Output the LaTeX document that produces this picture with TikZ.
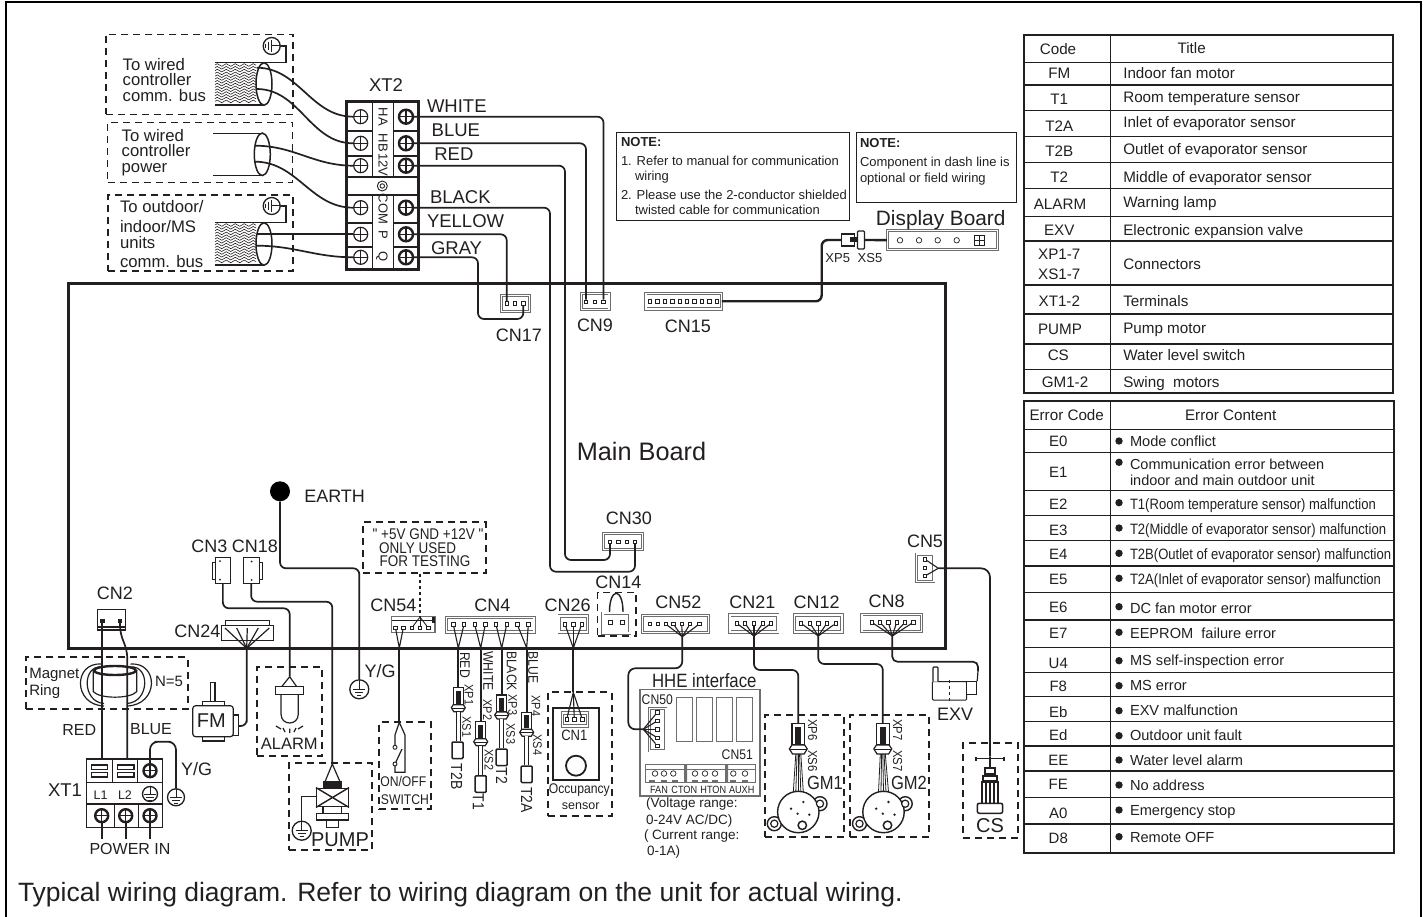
\documentclass[tikz,border=0pt]{standalone}
\usepackage{fontspec}
\setmainfont{Liberation Sans}
\newfontfamily\narrowfont[FakeStretch=0.87]{Liberation Sans}
\usepackage{tikz}
\usepackage{xcolor}
\usetikzlibrary{decorations.pathmorphing,shapes.geometric}
\definecolor{inkblack}{RGB}{35,31,32}
\definecolor{boxgray}{RGB}{110,110,110}
\tikzset{
  txt/.style={inner sep=0, outer sep=0, anchor=mid, text=inkblack, yshift={(2.85-0.36*#1)*1pt}, font=\fontsize{#1}{#1}\selectfont},
  ntxt/.style={inner sep=0, outer sep=0, anchor=mid, text=inkblack, yshift={(2.85-0.36*#1)*1pt}, font=\narrowfont\fontsize{#1}{#1}\selectfont},
  rtxt/.style={inner sep=0, outer sep=0, anchor=mid, text=inkblack, xshift={(2.85-0.36*#1)*1pt}, rotate=-90, font=\fontsize{#1}{#1}\selectfont},
  nrtxt/.style={inner sep=0, outer sep=0, anchor=mid, text=inkblack, xshift={(2.85-0.36*#1)*1pt}, rotate=-90, font=\narrowfont\fontsize{#1}{#1}\selectfont},
  wire/.style={draw=inkblack, line width=1.7, rounded corners=6},
  heavywire/.style={draw=inkblack, line width=2.4, rounded corners=6},
  thinwire/.style={draw=inkblack, line width=1.1},
  partline/.style={draw=inkblack, line width=1.2},
  dashbox/.style={draw=inkblack, line width=1.8, dash pattern=on 7pt off 5pt},
  tablerule/.style={draw=inkblack, line width=1.5},
  cnbox/.style={rectangle, draw=boxgray, line width=0.8, double=white, double distance=1.5, fill=white, inner sep=0},
  pinbox/.style={rectangle, draw=inkblack, fill=white, line width=0.7, minimum size=3.4, inner sep=0},
  sensorbox/.style={rectangle, draw=inkblack, fill=white, line width=1.5, rounded corners=1, minimum width=11, minimum height=16.5, inner sep=0},
  bullet/.style={circle, fill=inkblack, minimum size=7.4, inner sep=0},
  screw/.style={circle, draw=inkblack, fill=white, line width=1.2, minimum size=14, inner sep=0,
    path picture={\draw[line width=1.2] (path picture bounding box.north) -- (path picture bounding box.south) (path picture bounding box.west) -- (path picture bounding box.east);}},
  boldscrew/.style={screw, line width=2.4},
  ground/.style={circle, draw=inkblack, fill=white, line width=1.3, minimum size=19, inner sep=0,
    path picture={\draw[line width=1] (path picture bounding box.center) ++(0,-9) -- ++(0,9) ++(-6,0) -- ++(12,0) ++(-10,3) -- ++(8,0) ++(-6,3) -- ++(4,0);}},
  sideground/.style={circle, draw=inkblack, fill=white, line width=1.3, minimum size=17, inner sep=0,
    path picture={\draw[line width=1] (path picture bounding box.center) ++(9,0) -- ++(-9,0) ++(0,-6) -- ++(0,12) ++(-3,-10) -- ++(0,8) ++(-3,-6) -- ++(0,4);}},
  plug/.pic={
    \coordinate (-top) at (0,0);
    \coordinate (-bot) at (0,24);
    \draw[partline, fill=white] (-5,0) rectangle (5,17);
    \fill[inkblack] (-2.4,3) rectangle (2.4,16);
    \draw[partline, fill=white] (-5,17) -- (5,17) -- (7,20) -- (4.5,24) -- (-4.5,24) -- (-7,20) -- cycle;
    \draw[partline] (-6.6,20.5) -- (6.6,20.5);
  },
  gearmotor/.pic={
    \coordinate (-top) at (0,-20);
    \draw[partline, line width=1.4, fill=white] (-24,11.7) circle[radius=7] (21.7,-8.3) circle[radius=7];
    \draw[partline, line width=1.4, fill=white] (0,0) circle[radius=20.7];
    \draw[partline, fill=white] (-24,11.7) circle[radius=3.6] (21.7,-8.3) circle[radius=3.6];
    \draw[partline, line width=1.5] (4,13.3) circle[radius=4.2];
    \fill[inkblack] (-7.3,-3.3) circle[radius=1.3] (5,-10) circle[radius=1.3] (-0.7,1.7) circle[radius=1.3] (11,2.7) circle[radius=1.3];
  },
  cablehatch/.pic={
    \foreach \h in {2,4.8,...,40}
      \draw[line width=0.6, draw=inkblack, decorate, decoration={zigzag, segment length=9, amplitude=1.3}] (0,\h) -- (41,\h);
  }
}
\begin{document}
\begin{tikzpicture}[x=1pt, y=-1pt]
  \useasboundingbox (0,0) rectangle (1427,917);
  \draw[draw=black, line width=2] (6,917) -- (6,2.5) -- (1421,2.5) -- (1421,917);

  % Main board
  \node[rectangle, draw=inkblack, line width=3, minimum width=877, minimum height=364, inner sep=0] (mainboard) at (506.5,466) {};
  \node[txt=25.3] (mainlabel) at (641.5,452) {Main Board};

  % Terminal block XT2
  \node[rectangle, draw=inkblack, line width=3, minimum width=72, minimum height=168, inner sep=0] (xt2) at (382,186) {};
  \node[txt=18.5] (xt2label) at (386,85.5) {XT2};
  \draw[partline] (372.7,102) -- (372.7,177) (393.3,102) -- (393.3,177) (372.7,195) -- (372.7,270) (393.3,195) -- (393.3,270);
  \draw[partline] (346,131) -- (372.7,131) (346,156) -- (372.7,156) (393.3,131) -- (418,131) (393.3,156) -- (418,156);
  \draw[partline] (346,177) -- (418,177) (346,195) -- (418,195);
  \draw[partline] (346,223) -- (372.7,223) (346,247) -- (372.7,247) (393.3,223) -- (418,223) (393.3,247) -- (418,247);
  \node[screw] (ha) at (360.7,116.7) {};
  \node[screw] (hb) at (360.7,143.3) {};
  \node[screw] (v12) at (360.7,165.7) {};
  \node[screw] (com) at (360.7,207.7) {};
  \node[screw] (p) at (360.7,234.3) {};
  \node[screw] (q) at (360.7,257.3) {};
  \node[boldscrew] (swhite) at (406,116.7) {};
  \node[boldscrew] (sblue) at (406,143.3) {};
  \node[boldscrew] (sred) at (406,165.7) {};
  \node[boldscrew] (sblack) at (406,207.7) {};
  \node[boldscrew] (syellow) at (406,234.3) {};
  \node[boldscrew] (sgray) at (406,257.3) {};
  \node[rtxt=13] (halabel) at (383,117) {HA};
  \node[rtxt=13] (hblabel) at (383,143) {HB};
  \node[rtxt=13] (v12label) at (383,165) {12V};
  \node[rtxt=13] (comlabel) at (383,209) {COM};
  \node[rtxt=13] (plabel) at (383,235) {P};
  \node[rtxt=13] (qlabel) at (383,257) {Q};
  \node[circle, draw=inkblack, line width=0.9, minimum size=10, inner sep=0] (xt2hole) at (382.3,186) {};
  \node[circle, draw=inkblack, line width=0.9, minimum size=4.5, inner sep=0] (xt2hole2) at (382.3,186) {};
  \node[txt=18.5, anchor=mid west] (lwhite) at (427,105.7) {WHITE};
  \node[txt=18.5, anchor=mid west] (lblue) at (431.7,130) {BLUE};
  \node[txt=18.5, anchor=mid west] (lred) at (434.3,154.3) {RED};
  \node[txt=18.5, anchor=mid west] (lblack) at (430,197) {BLACK};
  \node[txt=18.5, anchor=mid west] (lyellow) at (427,221.5) {YELLOW};
  \node[txt=18.5, anchor=mid west] (lgray) at (431,248) {GRAY};

  % Field cables
  \node[dashbox, rectangle, minimum width=187, minimum height=80, inner sep=0] (bus1) at (199.7,74.5) {};
  \node[dashbox, rectangle, minimum width=185, minimum height=60, inner sep=0] (bus2) at (200,152.5) {};
  \node[dashbox, rectangle, minimum width=185, minimum height=76, inner sep=0] (bus3) at (200.8,233) {};
  \node[txt=16.7, anchor=mid west] (bus1a) at (122.7,65) {To wired};
  \node[txt=16.7, anchor=mid west] (bus1b) at (122.7,80) {controller};
  \node[txt=16.7, anchor=mid west] (bus1c) at (122.7,96) {comm. bus};
  \node[txt=16.7, anchor=mid west] (bus2a) at (121.7,136) {To wired};
  \node[txt=16.7, anchor=mid west] (bus2b) at (121.7,151) {controller};
  \node[txt=16.7, anchor=mid west] (bus2c) at (121.7,167) {power};
  \node[txt=16.7, anchor=mid west] (bus3a) at (120,207) {To outdoor/};
  \node[txt=16.7, anchor=mid west] (bus3b) at (120,227) {indoor/MS};
  \node[txt=16.7, anchor=mid west] (bus3c) at (120,243) {units};
  \node[txt=16.7, anchor=mid west] (bus3d) at (120,262) {comm. bus};
  \pic at (215,63) {cablehatch};
  \pic at (215,223) {cablehatch};
  \draw[partline, line width=1.8] (215,62.5) -- (264,62.5) (215,105) -- (264,105);
  \draw[partline, line width=1.8] (215,222.5) -- (264,222.5) (215,265) -- (264,265);
  \draw[partline, line width=1.5] (213.3,133.3) -- (262,133.3) (213.3,175.7) -- (262,175.7);
  \node[ellipse, draw=inkblack, line width=1.5, fill=white, minimum width=16, minimum height=42.5, inner sep=0] (end1) at (264,84) {};
  \node[ellipse, draw=inkblack, line width=1.5, fill=white, minimum width=16, minimum height=42.5, inner sep=0] (end2) at (262.3,154.3) {};
  \node[ellipse, draw=inkblack, line width=1.5, fill=white, minimum width=16, minimum height=42.5, inner sep=0] (end3) at (264,244) {};
  \node[sideground] (gnd1) at (271.7,46) {};
  \node[sideground] (gnd3) at (271.7,206) {};
  \coordinate (c1) at (286,62.5);
  \coordinate (c3) at (286,222.5);
  \coordinate (w1a) at (256.7,67.7);
  \coordinate (w1b) at (256.7,89);
  \coordinate (w2a) at (255,145.7);
  \coordinate (w2b) at (255,161.7);
  \coordinate (w3a) at (256.7,234.3);
  \coordinate (w3b) at (256.7,245.7);
  \draw[thinwire, line width=1.3] (gnd1) -| (c1) -- (264,62.5);
  \draw[thinwire, line width=1.3] (gnd3) -| (c3) -- (264,222.5);
  \draw[wire] (w1a) to[out=0, in=180] (ha);
  \draw[wire] (w1b) to[out=0, in=180] (hb);
  \draw[wire] (w2a) to[out=0, in=180] (v12);
  \draw[wire] (w2b) to[out=0, in=180] (com);
  \draw[wire] (w3a) -- (p);
  \draw[wire] (w3b) to[out=0, in=180] (q);

  % Upper connectors
  \node[cnbox, minimum width=28, minimum height=16] (cn17) at (515.7,303.3) {};
  \foreach \n/\x in {a/506.7,b/515,c/523.3}
    \node[pinbox] (cn17\n) at (\x,303.3) {};
  \node[txt=18] (cn17label) at (519,335.5) {CN17};
  \node[cnbox, minimum width=27.5, minimum height=16] (cn9) at (595.3,301.7) {};
  \foreach \n/\x in {a/586,b/595,c/603.5}
    \node[pinbox] (cn9\n) at (\x,301.7) {};
  \node[txt=18] (cn9label) at (595,325.5) {CN9};
  \node[cnbox, minimum width=75.5, minimum height=15.5] (cn15) at (683.6,301.3) {};
  \foreach \x in {650,657.4,...,717}
    \node[pinbox] (cn15x\x) at (\x,301.3) {};
  \node[txt=18] (cn15label) at (688,326) {CN15};
  \node[cnbox, minimum width=39, minimum height=16] (cn30) at (623,541.7) {};
  \foreach \n/\x in {a/610,b/618.3,c/626.7,d/635}
    \node[pinbox] (cn30\n) at (\x,541.7) {};
  \node[txt=18] (cn30label) at (629,518.5) {CN30};
  \coordinate (g1) at (478,319);
  \coordinate (b1) at (550,571.7);
  \coordinate (r1) at (565,560);
  \draw[wire] (swhite) -| (cn9c);
  \draw[wire] (sblue) -| (cn9a);
  \draw[wire] (sred) -| (r1) -| (cn30a);
  \draw[wire] (sblack) -| (b1) -| (cn30d);
  \draw[wire] (syellow) -| (cn17a);
  \draw[wire] (sgray) -| (g1) -| (cn17c);

  % Display board
  \node[cnbox, minimum width=110, minimum height=19, double distance=1.2] (display) at (942.3,240.3) {};
  \foreach \n/\x in {a/900,b/919,c/937.7,d/956.7}
    \node[circle, draw=inkblack, line width=0.7, minimum size=5.5, inner sep=0] (led\n) at (\x,240.3) {};
  \node[rectangle, draw=inkblack, line width=1, minimum width=10, minimum height=10, inner sep=0] (digits) at (979.3,240.3) {};
  \draw[partline, line width=0.9] (digits.north) -- (digits.south) (digits.west) -- (digits.east);
  \node[txt=20.8] (displaylabel) at (940.7,218.5) {Display Board};
  \node[txt=13] (xp5) at (837.7,258.5) {XP5};
  \node[txt=13] (xs5) at (870,258.5) {XS5};
  \node[rectangle, draw=inkblack, line width=1.3, fill=white, minimum width=13, minimum height=12, inner sep=0] (xp5box) at (848,240) {};
  \node[rectangle, fill=inkblack, minimum width=10, minimum height=5, inner sep=0] (xp5core) at (855,240) {};
  \node[rectangle, draw=inkblack, line width=1.3, fill=white, rounded corners=1, minimum width=7, minimum height=18, inner sep=0] (xs5box) at (861,240) {};
  \coordinate (d1) at (821.7,240);
  \draw[heavywire] (cn15) -| (d1) -- (xp5box);
  \draw[heavywire, rounded corners=0] (xs5box) -- (display);

  % Notes
  \node[rectangle, draw=inkblack, line width=1, minimum width=233, minimum height=88, inner sep=0] (note1) at (732.5,177) {};
  \node[rectangle, draw=inkblack, line width=1, minimum width=160, minimum height=70, inner sep=0] (note2) at (936,168) {};
  \node[txt=13, anchor=mid west] (note1a) at (621,142.5) {\bfseries NOTE:};
  \node[txt=13, anchor=mid west] (note1b) at (621,160.7) {1. Refer to manual for communication};
  \node[txt=13, anchor=mid west] (note1c) at (635,176) {wiring};
  \node[txt=13, anchor=mid west] (note1d) at (621,195) {2. Please use the 2-conductor shielded};
  \node[txt=13, anchor=mid west] (note1e) at (635,210) {twisted cable for communication};
  \node[txt=13, anchor=mid west] (note2a) at (860,143) {\bfseries NOTE:};
  \node[txt=13, anchor=mid west] (note2b) at (860,161.7) {Component in dash line is};
  \node[txt=13, anchor=mid west] (note2c) at (860,177.7) {optional or field wiring};

  % Earth and testing note
  \node[circle, fill=black, minimum size=20, inner sep=0] (earth) at (280,491.3) {};
  \node[txt=18, anchor=mid west] (earthlabel) at (304.3,496) {EARTH};
  \node[ground] (gnde) at (359.3,689.3) {};
  \node[txt=18] (yg1) at (380,671.5) {Y/G};
  \coordinate (e1) at (359.3,568.3);
  \draw[wire] (earth) |- (e1) -- (gnde);
  \node[dashbox, rectangle, minimum width=123, minimum height=50.4, inner sep=0] (testbox) at (424.2,547.5) {};
  \node[ntxt=15.5] (test1) at (428,534) {" +5V GND +12V "};
  \node[ntxt=15.5] (test2) at (417.7,548.3) {ONLY USED};
  \node[ntxt=15.5] (test3) at (425,561.5) {FOR TESTING};

  % CN3 and CN18
  \node[rectangle, draw=inkblack, line width=0.8, minimum width=15.7, minimum height=25.6, inner sep=0] (cn3) at (222.85,570.5) {};
  \node[rectangle, draw=inkblack, line width=0.8, minimum width=15.7, minimum height=25.6, inner sep=0] (cn18) at (251.15,570.5) {};
  \draw[partline, line width=0.8] (215,562) -- (212.3,562) -- (212.3,579) -- (215,579);
  \draw[partline, line width=0.8] (259,562) -- (262.3,562) -- (262.3,579) -- (259,579);
  \fill[inkblack] (220,561) circle[radius=1] (220,579.7) circle[radius=1] (251.7,561.5) circle[radius=1] (251.7,580) circle[radius=1];
  \node[txt=18] (cn3label) at (209.3,546) {CN3};
  \node[txt=18] (cn18label) at (255,546) {CN18};

  % CN2, ring, XT1
  \node[rectangle, draw=inkblack, line width=1.2, minimum width=28.4, minimum height=20.7, inner sep=0] (cn2) at (111.5,619.7) {};
  \draw[partline] (97.3,627) -- (125.7,627);
  \node[pinbox, fill=inkblack] (cn2a) at (102.3,621) {};
  \node[pinbox, fill=inkblack] (cn2b) at (120,621) {};
  \node[txt=18] (cn2label) at (115,593.5) {CN2};
  \node[dashbox, rectangle, minimum width=161.7, minimum height=51.7, inner sep=0] (ringbox) at (106.85,683.15) {};
  \node[txt=15, anchor=mid west] (ring1) at (29.3,673.5) {Magnet};
  \node[txt=15, anchor=mid west] (ring2) at (29.3,690.5) {Ring};
  \node[txt=15] (ringn) at (169,681) {N=5};
  \draw[partline] (101.7,664) .. controls (73,662) and (73,705) .. (104,706);
  \draw[partline] (101.7,667) .. controls (82,665) and (82,702) .. (104,703.5);
  \draw[partline] (130.5,664) .. controls (159,662) and (159,705) .. (127,706);
  \draw[partline] (130.5,667) .. controls (150,665) and (150,702) .. (127,703.5);
  \draw[partline, fill=white] (93.3,671) -- (93.3,691.7) .. controls (100,699) and (130,699) .. (136.7,691.7) -- (136.7,671);
  \node[ellipse, draw=inkblack, line width=2.4, minimum width=42, minimum height=9, inner sep=0] (ringtop) at (115,670.5) {};
  \node[rectangle, draw=inkblack, line width=1.2, minimum width=75.6, minimum height=68.7, inner sep=0] (xt1) at (124.5,793.35) {};
  \node[txt=18.5] (xt1label) at (65,790) {XT1};
  \draw[partline, line width=1.2] (86.7,782.7) -- (162.3,782.7) (86.7,804) -- (162.3,804);
  \draw[partline, line width=1.2] (112.7,759) -- (112.7,782.7) (137.3,759) -- (137.3,782.7) (114.3,804) -- (114.3,827.7) (138.3,804) -- (138.3,827.7);
  \draw[partline] (91.7,765) rectangle (107.7,769.3) (91.7,772.7) rectangle (107.7,777);
  \draw[partline] (117.3,765) rectangle (134,769.3) (117.3,772.7) rectangle (134,777);
  \node[boldscrew, minimum size=13] (xt1g) at (150,770.7) {};
  \node[ground, minimum size=15] (xt1e) at (150,794) {};
  \node[boldscrew, minimum size=13] (xt1a) at (101.7,815.7) {};
  \node[boldscrew, minimum size=13] (xt1b) at (125.7,815.7) {};
  \node[boldscrew, minimum size=13] (xt1c) at (150,815.7) {};
  \node[txt=12.5] (l1) at (100.7,795) {L1};
  \node[txt=12.5] (l2) at (125,795) {L2};
  \coordinate (pow1) at (101.7,839.3);
  \coordinate (pow2) at (125.7,839.3);
  \coordinate (pow3) at (150,839.3);
  \draw[wire, line width=1.8] (xt1a) -- (pow1);
  \draw[wire, line width=1.8] (xt1b) -- (pow2);
  \draw[wire, line width=1.8] (xt1c) -- (pow3);
  \node[txt=16] (powerin) at (130,848.5) {POWER IN};
  \node[txt=16] (lred2) at (79.3,729.5) {RED};
  \node[txt=16] (lblue2) at (151,728.5) {BLUE};
  \node[ground, minimum size=17] (gndx) at (176,797.3) {};
  \node[txt=18] (yg2) at (196.7,769.5) {Y/G};
  \coordinate (xr) at (102.3,759);
  \coordinate (xb) at (127.3,759);
  \coordinate (bl1) at (127.3,660);
  \coordinate (yg3) at (162.5,741.7);
  \draw[wire] (cn2a) -- (xr);
  \draw[wire, rounded corners=0] (cn2b) .. controls (120,642) and (127.3,642) .. (bl1) -- (xb);
  \draw[wire, rounded corners=8] (xt1g.north) |- (yg3) -| (gndx);

  % CN24 and fan motor
  \node[rectangle, draw=inkblack, line width=0.8, minimum width=51.6, minimum height=15, inner sep=0] (cn24) at (247.5,632.5) {};
  \draw[partline, line width=0.8] (225,625) -- (225,620.7) -- (269.3,620.7) -- (269.3,625);
  \node[txt=18] (cn24label) at (197.3,631) {CN24};
  \coordinate (f24) at (246.7,648.3);
  \foreach \x in {225,236.7,247.3,258.3,269.3}
    \draw[thinwire, line width=1.2] (\x,628) -- (f24);
  \node[rectangle, draw=inkblack, line width=1.2, rounded corners=3, fill=white, minimum width=40.6, minimum height=31, inner sep=0] (fm) at (213,721.2) {};
  \draw[partline] (202.7,705.7) -- (202.7,701.7) -- (224.3,701.7) -- (224.3,705.7);
  \draw[partline] (202.7,736.7) -- (202.7,741) -- (224.3,741) -- (224.3,736.7);
  \draw[partline] (233.3,715) -- (238.3,715) -- (238.3,735.7) -- (233.3,735.7);
  \draw[partline, fill=white] (210.7,682.7) rectangle (215,701.7);
  \node[txt=20] (fmlabel) at (211.3,720.5) {FM};
  \coordinate (fm1) at (246.7,726);
  \draw[wire] (f24) |- (fm1) -- (238.3,726);

  % Alarm lamp
  \node[dashbox, rectangle, minimum width=65, minimum height=89, inner sep=0] (alarmbox) at (289.8,711.2) {};
  \coordinate (lamp) at (289.7,676.7);
  \coordinate (a1) at (289.7,608.3);
  \draw[heavywire, line width=1.7] (cn3.south) |- (a1) -- (lamp);
  \draw[partline] (lamp) -- (281.7,686.7) (lamp) -- (296.7,686.7);
  \draw[partline] (281,694.3) -- (281,714) .. controls (281,726) and (298.3,726) .. (298.3,714) -- (298.3,694.3);
  \draw[partline, fill=white] (275.7,686.7) rectangle (303.3,694.3);
  \draw[partline] (276,726) -- (281,729) (283,728) -- (285,732) (289.7,728.5) -- (289.7,733) (296,728) -- (294,732) (303,726) -- (298,729);
  \node[txt=16.5] (alarmlabel) at (289.3,744) {ALARM};

  % Pump
  \node[dashbox, rectangle, minimum width=83.3, minimum height=86.7, inner sep=0] (pumpbox) at (330.65,806.65) {};
  \coordinate (pumptop) at (332.3,764);
  \coordinate (c18) at (332.3,601.7);
  \draw[heavywire, line width=1.7] (cn18.south) |- (c18) -- (pumptop);
  \draw[partline] (pumptop) -- (325,781.7) (pumptop) -- (340,781.7);
  \draw[partline, fill=inkblack] (323.3,782) rectangle (341.7,788.3);
  \node[rectangle, draw=inkblack, line width=1.4, fill=white, minimum width=31.6, minimum height=18.4, inner sep=0] (pumpx) at (332.5,797.5) {};
  \draw[partline, line width=1.4] (pumpx.north west) -- (pumpx.south east) (pumpx.south west) -- (pumpx.north east);
  \draw[partline, fill=white] (323,806.7) rectangle (341.7,813.3);
  \draw[partline, line width=1.4, fill=white] (316.7,813.3) rectangle (348.3,820);
  \draw[partline, line width=1.4, fill=white] (326.7,820) rectangle (338.3,827.7);
  \node[ground] (gndp) at (301.7,830.7) {};
  \coordinate (gp) at (301.7,796.7);
  \draw[thinwire, line width=1.2] (gndp) -- (gp) -- (pumpx.west |- gp);
  \node[txt=20] (pumplabel) at (340,839.5) {PUMP};

  % CN54 and switch
  \node[rectangle, draw=boxgray, line width=1.2, fill=white, minimum width=43.3, minimum height=16, inner sep=0] (cn54) at (413.3,624.7) {};
  \draw[partline] (392,620.5) -- (434.7,620.5);
  \fill[inkblack] (432,617) rectangle (435,623);
  \foreach \n/\x in {a/395.5,b/403.3,c/411.7,d/420,e/428.3}
    \node[pinbox] (cn54\n) at (\x,628) {};
  \node[txt=18] (cn54label) at (393.3,605.5) {CN54};
  \coordinate (t54) at (420,617);
  \draw[thinwire, dashed, line width=1.2] (testbox.south -| t54) -- (t54);
  \foreach \n in {c,d,e}
    \draw[thinwire, line width=0.9] (t54) -- (cn54\n);
  \coordinate (f54) at (399.3,648);
  \draw[thinwire] (cn54a) -- (f54) -- (cn54b);
  \node[dashbox, rectangle, minimum width=51.4, minimum height=86.7, inner sep=0] (switchbox) at (405,765.6) {};
  \coordinate (sw) at (399.3,722.3);
  \draw[wire, rounded corners=0] (f54) -- (sw);
  \draw[partline] (sw) -- (395,735) -- (395,745) (395,766) -- (395,772.3) -- (405,772.3) -- (405,735) -- (sw);
  \draw[partline] (395,764) -- (402,749);
  \node[circle, draw=inkblack, line width=0.9, fill=white, minimum size=4, inner sep=0] (swa) at (395,747.3) {};
  \node[circle, draw=inkblack, line width=0.9, fill=white, minimum size=4, inner sep=0] (swb) at (395,764) {};
  \node[ntxt=14] (onoff) at (403.3,781.7) {ON/OFF};
  \node[ntxt=14] (switchlabel) at (405,799.3) {SWITCH};

  % CN4 and sensors
  \node[cnbox, minimum width=87.5, minimum height=14.5] (cn4) at (490.3,624.7) {};
  \foreach \n/\x in {a/453.3,b/464,c/474.7,d/485.3,e/496,f/506.7,g/517.3,h/528.3}
    \node[pinbox] (cn4\n) at (\x,624.5) {};
  \node[txt=18] (cn4label) at (492.3,605.7) {CN4};
  \coordinate (j1) at (458.3,648);
  \coordinate (j2) at (480.7,648);
  \coordinate (j3) at (501.7,648);
  \coordinate (j4) at (526.7,648);
  \draw[thinwire] (cn4a) -- (j1) -- (cn4b);
  \draw[thinwire] (cn4c) -- (j2) -- (cn4d);
  \draw[thinwire] (cn4e) -- (j3) -- (cn4f);
  \draw[thinwire] (cn4g) -- (j4) -- (cn4h);
  \pic (xp1) at (458.3,687.7) {plug};
  \pic (xp2) at (480.7,721.7) {plug};
  \pic (xp3) at (501.7,695) {plug};
  \pic (xp4) at (526.7,712.3) {plug};
  \node[sensorbox] (t2b) at (457.5,750.3) {};
  \node[sensorbox] (t1) at (480.7,784) {};
  \node[sensorbox] (t2) at (501.7,757.3) {};
  \node[sensorbox] (t2a) at (526.7,774.3) {};
  \draw[wire, rounded corners=0] (j1) -- (xp1-top);
  \draw[wire, rounded corners=0] (j2) -- (xp2-top);
  \draw[wire, rounded corners=0] (j3) -- (xp3-top);
  \draw[wire, rounded corners=0] (j4) -- (xp4-top);
  \draw[draw=inkblack, line width=1, double=white, double distance=3] (xp1-bot) -- (t2b.north -| xp1-bot);
  \draw[draw=inkblack, line width=1, double=white, double distance=3] (xp2-bot) -- (t1);
  \draw[draw=inkblack, line width=1, double=white, double distance=3] (xp3-bot) -- (t2);
  \draw[draw=inkblack, line width=1, double=white, double distance=3] (xp4-bot) -- (t2a);
  \node[nrtxt=14] (wred) at (465,665) {RED};
  \node[nrtxt=14] (wwhite) at (488.3,671) {WHITE};
  \node[nrtxt=14] (wblack) at (511.7,671) {BLACK};
  \node[nrtxt=14] (wblue) at (533.3,667.3) {BLUE};
  \node[nrtxt=12.5] (xp1l) at (469,695) {XP1};
  \node[nrtxt=12.5] (xs1l) at (466.7,727) {XS1};
  \node[nrtxt=12.5] (xp2l) at (487.3,710) {XP2};
  \node[nrtxt=12.5] (xs2l) at (489,760) {XS2};
  \node[nrtxt=12.5] (xp3l) at (512.7,705) {XP3};
  \node[nrtxt=12.5] (xs3l) at (510.7,734) {XS3};
  \node[nrtxt=12.5] (xp4l) at (536,706) {XP4};
  \node[nrtxt=12.5] (xs4l) at (537.3,745) {XS4};
  \node[nrtxt=16] (t2bl) at (456.7,776.7) {T2B};
  \node[nrtxt=16] (t1l) at (478.3,801.7) {T1};
  \node[nrtxt=16] (t2l) at (501.7,775.7) {T2};
  \node[nrtxt=16] (t2al) at (526.7,800) {T2A};

  % CN26 and occupancy sensor
  \node[cnbox, minimum width=28.5, minimum height=16] (cn26) at (573.3,624) {};
  \foreach \n/\x in {a/565,b/573.3,c/581.7}
    \node[pinbox] (cn26\n) at (\x,624.3) {};
  \node[txt=18] (cn26label) at (567.7,605.7) {CN26};
  \coordinate (j26) at (573.3,648);
  \coordinate (s26) at (573.3,692.3);
  \foreach \n in {a,b,c}
    \draw[thinwire] (cn26\n) -- (j26);
  \draw[wire, rounded corners=0] (j26) -- (s26);
  \node[dashbox, rectangle, minimum width=64, minimum height=123.4, inner sep=0] (occbox) at (579.7,754) {};
  \node[rectangle, draw=inkblack, line width=2, minimum width=46.3, minimum height=71.7, inner sep=0] (occ) at (575.85,744.15) {};
  \node[cnbox, minimum width=25, minimum height=13] (cn1) at (575,719.5) {};
  \foreach \n/\x in {a/566.7,b/574.3,c/582.3}
    \node[pinbox] (cn1\n) at (\x,719.3) {};
  \foreach \n in {a,b,c}
    \draw[thinwire] (s26) -- (cn1\n);
  \node[ntxt=15] (cn1label) at (574.3,735.7) {CN1};
  \node[circle, draw=inkblack, line width=1.8, minimum size=20, inner sep=0] (occlens) at (576,765.7) {};
  \node[ntxt=14] (occ1) at (579.3,788.3) {Occupancy};
  \node[txt=12.5] (occ2) at (580.7,805.7) {sensor};

  % CN14
  \node[dashbox, rectangle, line width=1.2, minimum width=38.3, minimum height=43.7, inner sep=0] (cn14box) at (616.85,614.15) {};
  \node[txt=18] (cn14label) at (618.3,582.7) {CN14};
  \draw[partline, line width=1.4] (609.5,612.3) .. controls (609.5,587) and (623,587) .. (623,612.3);
  \node[cnbox, minimum width=27, minimum height=20] (cn14) at (616.3,623.2) {};
  \node[pinbox, minimum size=4] (cn14a) at (610.7,622.3) {};
  \node[pinbox, minimum size=4] (cn14b) at (622.3,622.3) {};

  % CN52 and HHE interface
  \node[cnbox, minimum width=66, minimum height=17] (cn52) at (675.5,623.8) {};
  \foreach \n/\x in {a/650,b/657.7,c/665.7,d/673.3,e/681.7,f/690,g/699.3}
    \node[pinbox] (cn52\n) at (\x,624) {};
  \node[txt=18] (cn52label) at (678.3,602.7) {CN52};
  \coordinate (j52) at (682.3,636.7);
  \foreach \n in {c,d,e,f,g}
    \draw[thinwire] (cn52\n) -- (j52);
  \node[rectangle, draw=boxgray, line width=1.2, minimum width=120, minimum height=106.7, inner sep=0] (hhe) at (700,742.65) {};
  \node[ntxt=19.3] (hhelabel) at (704.3,680.7) {HHE interface};
  \node[ntxt=14] (cn50label) at (657.3,699.3) {CN50};
  \node[cnbox, minimum width=16.5, minimum height=42.5] (cn50) at (657.5,729.5) {};
  \foreach \n/\y in {a/712.3,b/721,c/729.3,d/737.7,e/745.7}
    \node[pinbox] (cn50\n) at (657.3,\y) {};
  \coordinate (h1) at (628.3,668.3);
  \coordinate (h2) at (628.3,729.3);
  \coordinate (j50) at (643.3,729.3);
  \draw[heavywire, line width=1.7, rounded corners=7] (j52) |- (h1) -- (h2) -- (j50);
  \foreach \n in {a,b,c,d,e}
    \draw[thinwire] (j50) -- (cn50\n);
  \foreach \n/\x in {a/684.7,b/704.7,c/724.7,d/744.7}
    \node[rectangle, draw=boxgray, line width=1, minimum width=16, minimum height=44, inner sep=0] (relay\n) at (\x,719.7) {};
  \node[ntxt=14] (cn51label) at (737.3,754.3) {CN51};
  \node[rectangle, draw=boxgray, line width=1, minimum width=110, minimum height=18.7, inner sep=0] (strip) at (700,773.4) {};
  \draw[partline, draw=boxgray, line width=0.8] (645,769.5) -- (755,769.5);
  \foreach \n/\x in {a/655,b/664,c/673.3,d/695,e/705,f/715,g/733.3,h/745}
    \node[circle, draw=inkblack, line width=0.7, minimum size=5.5, inner sep=0] (term\n) at (\x,773.5) {};
  \foreach \x in {652,664,675,695,705,715,733,745}
    \fill[boxgray] (\x-3,780) rectangle (\x+3,782);
  \fill[boxgray] (684,764) rectangle (687,782) (725,764) rectangle (728,782);
  \node[ntxt=10.5] (tfan) at (659,790) {FAN};
  \node[ntxt=10.5] (tcton) at (684.3,790) {CTON};
  \node[ntxt=10.5] (thton) at (713.3,790) {HTON};
  \node[ntxt=10.5] (tauxh) at (741.7,790) {AUXH};
  \node[txt=13.5, anchor=mid west] (hhe1) at (646,803) {(Voltage range:};
  \node[txt=13.5, anchor=mid west] (hhe2) at (646,819.5) {0-24V AC/DC)};
  \node[txt=13.5, anchor=mid west] (hhe3) at (644,835) {( Current range:};
  \node[txt=13.5, anchor=mid west] (hhe4) at (647,850.5) {0-1A)};

  % CN21, CN12 and swing motors
  \node[cnbox, minimum width=48, minimum height=17] (cn21) at (753.8,623.5) {};
  \foreach \n/\x in {a/736.7,b/745,c/754,d/762.7,e/771}
    \node[pinbox] (cn21\n) at (\x,623.3) {};
  \node[txt=18] (cn21label) at (752.3,602.7) {CN21};
  \node[cnbox, minimum width=47.5, minimum height=17] (cn12) at (818.2,623.5) {};
  \foreach \n/\x in {a/801,b/810,c/818.3,d/826.7,e/835.7}
    \node[pinbox] (cn12\n) at (\x,623.3) {};
  \node[txt=18] (cn12label) at (816.7,602.7) {CN12};
  \coordinate (j21) at (754,636);
  \coordinate (j12) at (818.3,636);
  \foreach \n in {a,b,c,d,e}
    \draw[thinwire] (cn21\n) -- (j21);
  \foreach \n in {a,b,c,d,e}
    \draw[thinwire] (cn12\n) -- (j12);
  \node[dashbox, rectangle, minimum width=79, minimum height=121.7, inner sep=0] (gm1box) at (804.5,775.85) {};
  \node[dashbox, rectangle, minimum width=79, minimum height=121.7, inner sep=0] (gm2box) at (889.5,775.85) {};
  \pic[scale=1.28] (xp6) at (798.3,723.3) {plug};
  \pic[scale=1.28] (xp7) at (882.8,723.3) {plug};
  \pic (gm1) at (798.3,812) {gearmotor};
  \pic (gm2) at (883.5,812) {gearmotor};
  \coordinate (m1) at (798.3,670);
  \coordinate (m2) at (882.8,664);
  \draw[wire] (j21) |- (m1) -- (xp6-top);
  \draw[wire] (j12) |- (m2) -- (xp7-top);
  \foreach \d in {-5,-2.5,0,2.5,5}
    \draw[thinwire, line width=0.8] ([xshift=\d/2*1pt]xp6-bot) -- ([xshift=\d*1pt]gm1-top);
  \foreach \d in {-5,-2.5,0,2.5,5}
    \draw[thinwire, line width=0.8] ([xshift=\d/2*1pt]xp7-bot) -- ([xshift=\d*1pt]gm2-top);
  \node[nrtxt=13] (xp6l) at (812.7,730) {XP6};
  \node[nrtxt=13] (xs6l) at (812.7,760.7) {XS6};
  \node[nrtxt=13] (xp7l) at (897.7,730) {XP7};
  \node[nrtxt=13] (xs7l) at (897.7,760.7) {XS7};
  \node[ntxt=19] (gm1l) at (825,782.7) {GM1};
  \node[ntxt=19] (gm2l) at (909,782.7) {GM2};

  % CN8 and EXV
  \node[cnbox, minimum width=59.5, minimum height=17] (cn8) at (891.5,622.8) {};
  \foreach \n/\x in {a/871.7,b/880,c/888.3,d/896.7,e/905,f/913.3}
    \node[pinbox] (cn8\n) at (\x,622.3) {};
  \node[txt=18] (cn8label) at (886.7,601.7) {CN8};
  \coordinate (j8) at (892.3,636);
  \foreach \n in {a,b,c,d,e,f}
    \draw[thinwire] (cn8\n) -- (j8);
  \coordinate (x1) at (978,661.7);
  \coordinate (x2) at (978,671);
  \draw[wire, rounded corners=5] (j8) |- (x1) -- (x2);
  \node[rectangle, draw=inkblack, line width=1, fill=white, rounded corners=1, minimum width=34.4, minimum height=18.3, inner sep=0] (exv) at (949.5,690.85) {};
  \node[rectangle, draw=inkblack, line width=1, fill=white, minimum width=10, minimum height=13.3, inner sep=0] (exvcoil) at (971.7,688.3) {};
  \draw[partline] (x2) -- (exvcoil.north east);
  \draw[partline, fill=white, rounded corners=1] (933,681.7) -- (933,667) -- (938,667) -- (938,681.7);
  \draw[partline, line width=0.7, dashed] (949.5,680) -- (949.5,702);
  \node[txt=18] (exvlabel) at (955,714) {EXV};

  % CN5 and water level switch
  \node[cnbox, minimum width=17.5, minimum height=27.5] (cn5) at (925,567.8) {};
  \foreach \n/\y in {a/559.3,b/567.7,c/576}
    \node[pinbox] (cn5\n) at (925,\y) {};
  \node[txt=18] (cn5label) at (925,541.7) {CN5};
  \coordinate (j5) at (938.3,568.3);
  \draw[thinwire] (cn5a) -- (j5) -- (cn5c);
  \coordinate (csc) at (990,568.3);
  \coordinate (cstop) at (990,756.7);
  \node[dashbox, rectangle, minimum width=55, minimum height=95, inner sep=0] (csbox) at (990.8,790.8) {};
  \draw[wire, rounded corners=9] (j5) -- (csc) -- (cstop);
  \draw[partline, line width=1.8] (976,758.5) -- (1004,758.5);
  \draw[partline] (976,757) -- (976,761) (1004,757) -- (1004,761);
  \draw[partline, line width=2.4] (990,757) -- (990,775);
  \draw[partline, fill=white] (985,768) rectangle (995,774) (983,776) rectangle (997,781);
  \draw[partline, line width=1.4, fill=white] (982,782) rectangle (998,803.3);
  \draw[partline, line width=1.6] (986,782) -- (986,803) (990,782) -- (990,803) (994,782) -- (994,803);
  \node[rectangle, draw=inkblack, line width=1.5, fill=white, rounded corners=2, minimum width=25.4, minimum height=10, inner sep=0] (csbase) at (990,808.3) {};
  \node[txt=20] (cslabel) at (990,826) {CS};

  % Code table
  \draw[tablerule, line width=1.7] (1024,34.7) rectangle (1393.3,392.7);
  \draw[tablerule] (1110.7,34.7) -- (1110.7,392.7);
  \foreach \y in {62.7,85,110.7,136.7,162.7,188.3,216.7,241,285,314,344,369.3}
    \draw[tablerule] (1024,\y) -- (1393.3,\y);
  \node[txt=15.2] (hcode) at (1058,49.3) {Code};
  \node[txt=15.2] (htitle) at (1191.7,48.3) {Title};
  \node[txt=15.2] (cfm) at (1059.3,73.3) {FM};
  \node[txt=15.2] (ct1) at (1059.3,99) {T1};
  \node[txt=15.2] (ct2a) at (1059.3,126) {T2A};
  \node[txt=15.2] (ct2b) at (1059.3,151.7) {T2B};
  \node[txt=15.2] (ct2) at (1059.3,177.3) {T2};
  \node[txt=15.2] (calarm) at (1060,204) {ALARM};
  \node[txt=15.2] (cexv) at (1059.3,230.7) {EXV};
  \node[txt=15.2] (cxp) at (1059.3,254.3) {XP1-7};
  \node[txt=15.2] (cxs) at (1059.3,274.3) {XS1-7};
  \node[txt=15.2] (cxt) at (1059.3,301.7) {XT1-2};
  \node[txt=15.2] (cpump) at (1060,329) {PUMP};
  \node[txt=15.2] (ccs) at (1058.3,355.7) {CS};
  \node[txt=15.2] (cgm) at (1065,382.3) {GM1-2};
  \node[txt=15.2, anchor=mid west] (tfm) at (1123.3,73.3) {Indoor fan motor};
  \node[txt=15.2, anchor=mid west] (tt1) at (1123.3,97.3) {Room temperature sensor};
  \node[txt=15.2, anchor=mid west] (tt2a) at (1123.3,122.3) {Inlet of evaporator sensor};
  \node[txt=15.2, anchor=mid west] (tt2b) at (1123.3,149.3) {Outlet of evaporator sensor};
  \node[txt=15.2, anchor=mid west] (tt2) at (1123.3,177.3) {Middle of evaporator sensor};
  \node[txt=15.2, anchor=mid west] (talarm) at (1123.3,202.7) {Warning lamp};
  \node[txt=15.2, anchor=mid west] (texv) at (1123.3,230.7) {Electronic expansion valve};
  \node[txt=15.2, anchor=mid west] (tconn) at (1123.3,264.3) {Connectors};
  \node[txt=15.2, anchor=mid west] (txt) at (1123.3,301.7) {Terminals};
  \node[txt=15.2, anchor=mid west] (tpump) at (1123.3,328.3) {Pump motor};
  \node[txt=15.2, anchor=mid west] (tcs) at (1123.3,355) {Water level switch};
  \node[txt=15.2, anchor=mid west] (tgm) at (1123.3,382.3) {Swing\ \ motors};

  % Error table
  \draw[tablerule, line width=1.7] (1024,401) rectangle (1394.3,852.7);
  \draw[tablerule] (1110.7,401) -- (1110.7,852.7);
  \foreach \y in {429.3,452.7,490.7,515.7,540.7,566,592.3,620,647.3,672.3,696.7,721.7,746,771,797.3,824}
    \draw[tablerule] (1024,\y) -- (1394.3,\y);
  \node[txt=15.2] (herr) at (1066.7,415.7) {Error Code};
  \node[txt=15.2] (hcon) at (1230.7,415) {Error Content};
  \node[txt=15] (e0) at (1058.3,441) {E0};
  \node[txt=15] (e1) at (1058.3,472.3) {E1};
  \node[txt=15] (e2) at (1058.3,504) {E2};
  \node[txt=15] (e3) at (1058.3,530) {E3};
  \node[txt=15] (e4) at (1058.3,554.3) {E4};
  \node[txt=15] (e5) at (1058.3,579.3) {E5};
  \node[txt=15] (e6) at (1058.3,607.3) {E6};
  \node[txt=15] (e7) at (1058.3,633.3) {E7};
  \node[txt=15] (u4) at (1058.3,663.3) {U4};
  \node[txt=15] (f8) at (1058.3,686) {F8};
  \node[txt=15] (eb) at (1058.3,712.3) {Eb};
  \node[txt=15] (ed) at (1058.3,735) {Ed};
  \node[txt=15] (ee) at (1058.3,760) {EE};
  \node[txt=15] (fe) at (1058.3,784.3) {FE};
  \node[txt=15] (a0) at (1058.3,813.3) {A0};
  \node[txt=15] (d8) at (1058.3,838.3) {D8};
  \node[bullet] (be0) at (1119,441) {};
  \node[bullet] (be1) at (1119,462.3) {};
  \node[bullet] (be2) at (1119,502.7) {};
  \node[bullet] (be3) at (1119,528) {};
  \node[bullet] (be4) at (1119,553.3) {};
  \node[bullet] (be5) at (1119,578.3) {};
  \node[bullet] (be6) at (1119,606.7) {};
  \node[bullet] (be7) at (1119,632.3) {};
  \node[bullet] (bu4) at (1119,660.7) {};
  \node[bullet] (bf8) at (1119,685.7) {};
  \node[bullet] (beb) at (1119,710.7) {};
  \node[bullet] (bed) at (1119,735.7) {};
  \node[bullet] (bee) at (1119,760) {};
  \node[bullet] (bfe) at (1119,785) {};
  \node[bullet] (ba0) at (1119,810) {};
  \node[bullet] (bd8) at (1119,836.7) {};
  \node[txt=14.6, anchor=mid west] (me0) at (1130,441.7) {Mode conflict};
  \node[txt=14.5, anchor=mid west] (me1a) at (1130,464.3) {Communication error between};
  \node[txt=14.5, anchor=mid west] (me1b) at (1130,480.3) {indoor and main outdoor unit};
  \node[ntxt=15, anchor=mid west] (me2) at (1130,504.3) {T1(Room temperature sensor) malfunction};
  \node[ntxt=15, anchor=mid west] (me3) at (1130,529.3) {T2(Middle of evaporator sensor) malfunction};
  \node[ntxt=15, anchor=mid west] (me4) at (1130,554.3) {T2B(Outlet of evaporator sensor) malfunction};
  \node[ntxt=15, anchor=mid west] (me5) at (1130,579.3) {T2A(Inlet of evaporator sensor) malfunction};
  \node[txt=14.6, anchor=mid west] (me6) at (1130,608.3) {DC fan motor error};
  \node[txt=14.6, anchor=mid west] (me7) at (1130,633.3) {EEPROM\ \ failure error};
  \node[txt=14.6, anchor=mid west] (mu4) at (1130,660.7) {MS self-inspection error};
  \node[txt=14.6, anchor=mid west] (mf8) at (1130,685.7) {MS error};
  \node[txt=14.6, anchor=mid west] (meb) at (1130,710.7) {EXV malfunction};
  \node[txt=14.6, anchor=mid west] (med) at (1130,735.7) {Outdoor unit fault};
  \node[txt=14.6, anchor=mid west] (mee) at (1130,760) {Water level alarm};
  \node[txt=14.6, anchor=mid west] (mfe) at (1130,785) {No address};
  \node[txt=14.6, anchor=mid west] (ma0) at (1130,810) {Emergency stop};
  \node[txt=14.6, anchor=mid west] (md8) at (1130,837.3) {Remote OFF};

  % Caption
  \node[txt=26.5, anchor=mid west] (caption) at (18,892.5) {Typical wiring diagram. Refer to wiring diagram on the unit for actual wiring.};
\end{tikzpicture}
\end{document}
